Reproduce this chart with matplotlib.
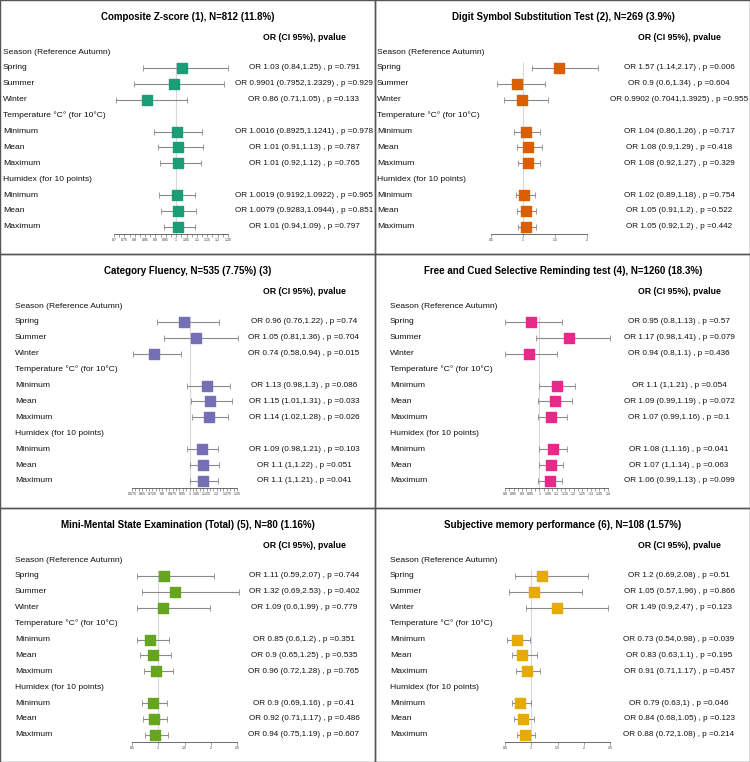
import numpy as np
import matplotlib
matplotlib.use("Agg")
import matplotlib.pyplot as plt
from matplotlib.transforms import blended_transform_factory
from matplotlib.patches import Rectangle

plt.rcParams['font.family'] = ['Liberation Sans', 'DejaVu Sans']

rows = ["Season (Reference Autumn)", "Spring", "Summer", "Winter",
        "Temperature \u00b0C\u00b0 (for 10\u00b0C)", "Minimum", "Mean", "Maximum",
        "Humidex (for 10 points)", "Minimum", "Mean", "Maximum"]
# rows that carry an estimate
est_rows = [1, 2, 3, 5, 6, 7, 9, 10, 11]

titles = ["Composite Z-score (1), N=812 (11.8%)",
          "Digit Symbol Substitution Test (2), N=269 (3.9%)",
          "Category Fluency, N=535 (7.75%) (3)",
          "Free and Cued Selective Reminding test (4), N=1260 (18.3%)",
          "Mini-Mental State Examination (Total) (5), N=80 (1.16%)",
          "Subjective memory performance (6), N=108 (1.57%)"]
colors = ["#1B9E77", "#D95F02", "#7570B3", "#E7298A", "#66A61E", "#E6AB02"]

or1 = ["1.03", "0.9901", "0.86", "1.0016", "1.01", "1.01", "1.0019", "1.0079", "1.01"]
lo1 = ["0.84", "0.7952", "0.71", "0.8925", "0.91", "0.92", "0.9192", "0.9283", "0.94"]
hi1 = ["1.25", "1.2329", "1.05", "1.1241", "1.13", "1.12", "1.0922", "1.0944", "1.09"]
p1 = ["0.791", "0.929", "0.133", "0.978", "0.787", "0.765", "0.965", "0.851", "0.797"]

or2 = ["1.57", "0.9", "0.9902", "1.04", "1.08", "1.08", "1.02", "1.05", "1.05"]
lo2 = ["1.14", "0.6", "0.7041", "0.86", "0.9", "0.92", "0.89", "0.91", "0.92"]
hi2 = ["2.17", "1.34", "1.3925", "1.26", "1.29", "1.27", "1.18", "1.2", "1.2"]
p2 = ["0.006", "0.604", "0.955", "0.717", "0.418", "0.329", "0.754", "0.522", "0.442"]

or3 = ["0.96", "1.05", "0.74", "1.13", "1.15", "1.14", "1.09", "1.1", "1.1"]
lo3 = ["0.76", "0.81", "0.58", "0.98", "1.01", "1.02", "0.98", "1", "1"]
hi3 = ["1.22", "1.36", "0.94", "1.3", "1.31", "1.28", "1.21", "1.22", "1.21"]
p3 = ["0.74", "0.704", "0.015", "0.086", "0.033", "0.026", "0.103", "0.051", "0.041"]

or4 = ["0.95", "1.17", "0.94", "1.1", "1.09", "1.07", "1.08", "1.07", "1.06"]
lo4 = ["0.8", "0.98", "0.8", "1", "0.99", "0.99", "1", "1", "0.99"]
hi4 = ["1.13", "1.41", "1.1", "1.21", "1.19", "1.16", "1.16", "1.14", "1.13"]
p4 = ["0.57", "0.079", "0.436", "0.054", "0.072", "0.1", "0.041", "0.063", "0.099"]

or5 = ["1.11", "1.32", "1.09", "0.85", "0.9", "0.96", "0.9", "0.92", "0.94"]
lo5 = ["0.59", "0.69", "0.6", "0.6", "0.65", "0.72", "0.69", "0.71", "0.75"]
hi5 = ["2.07", "2.53", "1.99", "1.2", "1.25", "1.28", "1.16", "1.17", "1.19"]
p5 = ["0.744", "0.402", "0.779", "0.351", "0.535", "0.765", "0.41", "0.486", "0.607"]

or6 = ["1.2", "1.05", "1.49", "0.73", "0.83", "0.91", "0.79", "0.84", "0.88"]
lo6 = ["0.69", "0.57", "0.9", "0.54", "0.63", "0.71", "0.63", "0.68", "0.72"]
hi6 = ["2.08", "1.96", "2.47", "0.98", "1.1", "1.17", "1", "1.05", "1.08"]
p6 = ["0.51", "0.866", "0.123", "0.039", "0.195", "0.457", "0.046", "0.123", "0.214"]

panels = [(or1, lo1, hi1, p1), (or2, lo2, hi2, p2), (or3, lo3, hi3, p3),
          (or4, lo4, hi4, p4), (or5, lo5, hi5, p5), (or6, lo6, hi6, p6)]

# x-axis range, minor tick step, labelled ticks
xranges = [(0.7, 1.25), (0.5, 2.0), (0.575, 1.35), (0.8, 1.4), (0.5, 2.5), (0.5, 2.5)]
minor_steps = [0.025, None, 0.025, 0.025, None, None]
tick_labels = [[0.7, 0.75, 0.8, 0.85, 0.9, 0.95, 1, 1.05, 1.1, 1.15, 1.2, 1.25],
               [0.5, 1, 1.5, 2],
               [0.575, 0.65, 0.725, 0.8, 0.875, 0.95, 1, 1.05, 1.125, 1.2, 1.275, 1.35],
               [0.8, 0.85, 0.9, 0.95, 1, 1.05, 1.1, 1.15, 1.2, 1.25, 1.3, 1.35, 1.4],
               [0.5, 1, 1.5, 2, 2.5],
               [0.5, 1, 1.5, 2, 2.5]]

W, H = 750, 762
PW, PH = 375, 254
fig = plt.figure(figsize=(W / 100, H / 100), dpi=100)

# pixel layout inside each panel
ax_x = [(114, 228), (116, 212), (132, 237), (130, 233), (132, 237), (130, 235)]
label_x = [3, 2, 15, 15, 15, 15]
row0, dy = 52, 15.9
ax_top, ax_bot = row0 - 0.5 * dy, 234

for k in range(6):
    col, r = k % 2, k // 2
    px0, py0 = col * PW, r * PH
    fig.add_artist(Rectangle((px0 / W, 1 - (py0 + PH) / H), PW / W, PH / H,
                             transform=fig.transFigure, fill=False,
                             edgecolor="#555555", lw=1))
    xl, xr = ax_x[k]
    ax = fig.add_axes([(px0 + xl) / W, 1 - (py0 + ax_bot) / H,
                       (xr - xl) / W, (ax_bot - ax_top) / H])
    y_bottom = (ax_bot - row0) / dy
    ax.set_ylim(y_bottom, -0.5)
    ax.set_xlim(*xranges[k])
    for s in ["top", "right", "left"]:
        ax.spines[s].set_visible(False)
    ax.spines["bottom"].set_color("#555555")
    ax.spines["bottom"].set_linewidth(0.6)
    ax.set_yticks([])
    ax.set_xticks(tick_labels[k])
    ax.set_xticklabels([f"{t:g}" for t in tick_labels[k]], fontsize=2.6)
    if minor_steps[k]:
        lo_, hi_ = xranges[k]
        n = int(round((hi_ - lo_) / minor_steps[k]))
        ax.set_xticks(np.linspace(lo_, hi_, n + 1), minor=True)
    ax.tick_params(axis="x", which="both", length=2, width=0.4, pad=1, colors="#555555")
    ax.tick_params(axis="x", labelcolor="#333333")
    ax.patch.set_alpha(0)

    ax.vlines(1, 0.62, y_bottom, color="#d8d8d8", lw=0.8, zorder=0)

    o, lo, hi, pv = panels[k]
    ov = np.array([float(v) for v in o])
    lov = np.array([float(v) for v in lo])
    hiv = np.array([float(v) for v in hi])
    ax.errorbar(ov, est_rows, xerr=[ov - lov, hiv - ov], fmt="none",
                ecolor="#8a8a8a", elinewidth=0.8, capsize=2, capthick=0.6,
                zorder=2, clip_on=False)
    ax.scatter(ov, est_rows, marker="s", s=44, color=colors[k], zorder=3,
               clip_on=False)

    tr = blended_transform_factory(fig.transFigure, ax.transData)
    for i, lab in enumerate(rows):
        ax.text((px0 + label_x[k]) / W, i, lab, transform=tr, fontsize=6.1,
                ha="left", va="center", color="#111111")
    for j, i in enumerate(est_rows):
        s = f"OR {o[j]} ({lo[j]},{hi[j]}) , p ={pv[j]}"
        ax.text((px0 + 304) / W, i, s, transform=tr, fontsize=5.9,
                ha="center", va="center", color="#111111")

    fig.text((px0 + 188) / W, 1 - (py0 + 17) / H, titles[k], fontsize=7.0,
             fontweight="bold", ha="center", va="center")
    fig.text((px0 + 304) / W, 1 - (py0 + 37) / H, "OR (CI 95%), pvalue",
             fontsize=6.3, fontweight="bold", ha="center", va="center")

fig.savefig("out.png", dpi=100, facecolor="white")
